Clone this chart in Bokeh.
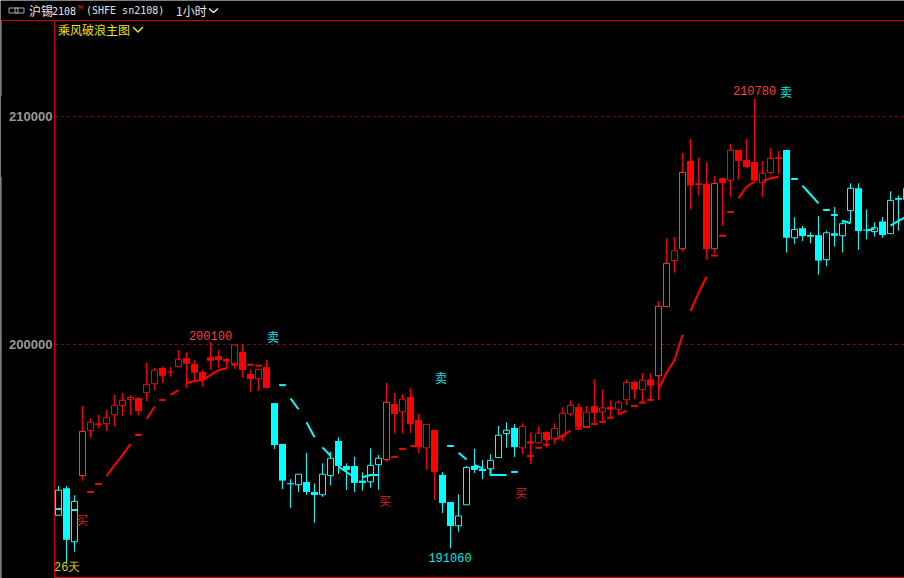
from bokeh.plotting import figure
from bokeh.embed import file_html
from bokeh.resources import INLINE
from bokeh.models import FixedTicker, Range1d, Span
from bokeh.core.properties import value

# ---------- data ----------
open_ = [192510,193690,191350,194250,196220,196540,196530,196920,197320,197580,
         197650,197890,198280,198970,198820,199030,199400,199150,198790,199440,
         199480,199360,199160,199670,198710,198500,199010,197430,195640,193920,
         193850,193970,193530,193410,194250,195770,194670,194670,194030,193980,
         194730,194950,197390,197050,197700,196690,195470,196250,194280,193090,
         192050,192970,194670,194540,194550,195040,196090,196340,195470,195750,
         195690,196160,195870,195960,196960,197260,196370,197300,197050,197260,
         197160,197580,198360,198020,198470,198630,201660,203680,204200,208050,
         207070,207040,204200,207300,207200,208530,208090,208000,207100,207540,
         208210,208530,204680,205100,204800,204790,203720,204880,204770,205870,
         206850,205040,204950,205400,204860,206430]
close = [193610,191440,193120,196190,196590,196470,196790,197330,197550,197680,
         197080,198250,198870,198630,198770,199350,199160,198760,198460,199290,
         199320,199250,199980,198880,198490,198910,198090,195590,194030,193870,
         194310,193530,193400,194310,195010,194670,194500,193930,193930,194700,
         195010,197470,196950,197600,196510,195500,196500,194410,193050,192040,
         192480,194610,194500,194450,194920,196020,196240,195500,196410,195650,
         196110,195810,196320,196980,197330,196380,197030,197000,197220,197140,
         197470,198340,198020,198430,198190,201680,203560,204110,207550,206970,
         207000,204190,207070,207080,208520,208050,207790,207180,207510,208170,
         208140,204680,205050,204760,204730,203680,204900,204770,205300,206850,
         204980,205000,205120,204800,206320,206350]
high = [193790,193790,193390,197300,196760,196910,197130,197790,197860,197770,
        197680,199190,198970,199040,199010,199760,199660,199320,198880,200100,
        199760,199400,199980,200010,198910,198910,199320,197430,195640,194090,
        194310,195240,193910,194790,195300,195930,194790,195070,194400,195450,
        195150,198310,197870,197830,198080,196950,196500,196250,194410,193090,
        193430,194670,195420,194930,195180,196430,196590,196510,196540,196150,
        196410,196190,196540,197250,197550,197420,197300,198470,198040,197550,
        197550,198470,198390,198750,198740,201910,204660,204720,208400,209000,
        208210,207990,207390,207300,208790,208530,209000,210780,208050,208620,
        208490,208530,205580,205200,204920,205640,204990,206030,205460,207070,
        207070,205930,205360,205590,206720,206540]
low = [192510,190400,190910,194030,195910,196340,196210,196400,196860,196910,
       196880,197520,198000,198320,198590,199030,198100,198440,198150,198880,
       198970,198910,198930,198540,197930,197960,198090,195420,193660,192840,
       193540,193410,192180,193320,193820,194320,193620,193530,193590,193720,
       193630,194860,196090,196090,196120,195240,194500,193190,192610,191060,
       191790,192970,194360,194100,194550,195040,195470,195070,195200,194750,
       195650,195490,195640,195740,196860,196250,196370,196540,196630,196780,
       196950,197350,197600,197470,197510,197570,201660,203150,204070,205930,
       206530,203720,204000,205210,206480,207230,207740,207180,206480,207480,
       207480,204030,204420,204540,204450,203060,203430,204290,204040,205320,
       204150,204610,204730,204680,204860,204990]
# last bar, of which the left edge only just shows
open_ += [206850]; close += [206350]; high += [206850]; low += [206350]
trend = ["sell"]*3 + ["buy"]*24 + ["sell"]*14 + ["buy"]*7 + ["sell"]*10 + ["buy"]*33 + ["sell"]*16

# guide line: runs of consecutive bars (bar numbers, prices)
buy_runs = [
    ([4],[193530]), ([5],[193880]),
    ([6,7,8,9],[194230,194710,195150,195640]), ([10],[196030]),
    ([11,12],[196730,197270]), ([13],[197570]), ([14,15],[197790,198000]),
    ([16,17,18,19,20,21],[198300,198400,198440,198660,198880,198960]),
    ([22],[199110]), ([24],[199110]), ([25],[199070]),
    ([42],[195070]), ([43],[195420]), ([44,45],[195550,195550]),
    ([59],[195110]), ([60],[195470]), ([61],[195610]),
    ([62,63,64],[195810,196010,196220]), ([65],[196310]), ([66],[196380]),
    ([67],[196510]), ([68],[196610]), ([69],[196790]), ([70,71],[196920,197100]),
    ([72],[197300]), ([73],[197450]), ([74],[197570]),
    ([75,76,77,78],[198050,198750,199320,200420]),
    ([79,80,81],[201470,202260,202970]),
    ([82],[203900]), ([83],[204770]), ([84],[205810]),
    ([85,86,87],[206410,206920,207140]), ([88,89,90],[207170,207290,207360]),
]
sell_runs = [
    ([0],[192790]), ([2],[192740]),
    ([28],[198220]), ([29,30],[197640,197160]), ([31,32],[196590,195930]),
    ([33,34],[195490,195120]), ([35,36,37],[194640,194410,194170]),
    ([38,39,40],[194180,194280,194280]),
    ([49],[195550]), ([50,51],[195250,194960]), ([52,53],[194710,194570]),
    ([54,54,55,56],[194550,194280,194280,194280]), ([57],[194410]),
    ([92],[207260]), ([93,94,95],[206970,206580,206190]), ([96],[205900]),
    ([97],[205680]), ([98,99],[205430,205320]), ([101,102],[204990,205090]),
    ([104,105,106],[205210,205420,205610]),
]
y_ticks = [200000, 210000]
peak_labels = ["200100", "210780", "191060"]
signal_labels = ["卖", "卖", "卖", "买", "买", "买"]

# ---------- scale: 8 px per bar, 228 px per 10000 ----------
BAR = 8.0
UNIT = 10000 / 228.0
def bx(px):   # page pixel -> bar number (for texts and frame only)
    return (px - 58.5) / BAR
def by(py):   # page pixel -> price (for texts and frame only)
    return 200000 + (344.5 - py) * UNIT

# the renderer draws half a pixel off, which the ranges take back so that 1px lines stay sharp
p = figure(width=904, height=578, output_backend="svg", toolbar_location=None,
           x_range=Range1d(bx(0.5), bx(904.5)), y_range=Range1d(by(578.5), by(0.5)),
           x_axis_location=None, min_border=0, min_border_left=0, min_border_right=0,
           min_border_top=0, min_border_bottom=0, background_fill_color="#000000",
           border_fill_color="#000000", outline_line_color=None)
p.grid.visible = False

ax = p.yaxis[0]
ax.ticker = FixedTicker(ticks=y_ticks)
ax.fixed_location = bx(54.5)
ax.bounds = (by(577.5), by(20.5))
ax.axis_line_color = "#d40000"
ax.axis_line_width = 1
ax.major_tick_line_color = None
ax.minor_tick_line_color = None
ax.major_tick_in = 0
ax.major_tick_out = 0
ax.major_label_standoff = 2
ax.major_label_text_color = "#9a9a9a"
ax.major_label_text_font = "Liberation Sans"
ax.major_label_text_font_style = "bold"
ax.major_label_text_font_size = "13px"
ax.formatter.use_scientific = False

# frame lines
p.add_layout(Span(location=by(20.5), dimension="width", line_color="#d40000", line_width=1))
p.segment(x0=[bx(54.5)], x1=[bx(904)], y0=[by(577.5)], y1=[by(577.5)], line_color="#d40000", line_width=1)
p.segment(x0=[bx(55)]*2, x1=[bx(904)]*2, y0=y_ticks, y1=y_ticks,
          line_color="#a00000", line_width=1, line_dash="3 3")
p.segment(x0=[bx(1.5)]*2, x1=[bx(1.5)]*2, y0=[by(21), by(177)], y1=[by(96), by(578)],
          line_color="#555555", line_width=1)

# candles
RED, CYAN, PALE = "#ff0000", "#00ffff", "#ff3c3c"
n = len(open_)
idx = list(range(n))
wick_col = [RED if t == "buy" else CYAN for t in trend]
p.segment(x0=idx, x1=idx, y0=low, y1=high, line_color=wick_col, line_width=1)

solid = [i for i in idx if close[i] <= open_[i]]
p.vbar(x=solid, width=7 / BAR, bottom=[close[i] for i in solid], top=[open_[i] for i in solid],
       fill_color=[wick_col[i] for i in solid], line_color=None)

# hollow bodies, one call per outline colour
hollow_red_tall = [i for i in idx if close[i] > open_[i] and trend[i] == "buy" and close[i] - open_[i] > 1500]
hollow_red = [i for i in idx if close[i] > open_[i] and trend[i] == "buy" and close[i] - open_[i] <= 1500]
hollow_cyan = [i for i in idx if close[i] > open_[i] and trend[i] == "sell"]
for group, colour in ((hollow_red_tall, PALE), (hollow_red, RED), (hollow_cyan, CYAN)):
    p.vbar(x=group, width=6 / BAR, bottom=[open_[i] for i in group], top=[close[i] for i in group],
           fill_color="#000000", line_color=colour, line_width=1)

# guide line
def runs_to_lines(runs):
    xs, ys = [], []
    for bars, vals in runs:
        if len(bars) == 1:
            xs.append([bars[0] - 0.42, bars[0] + 0.42])
            ys.append([vals[0], vals[0]])
        else:
            xs.append(list(bars))
            ys.append(list(vals))
    return xs, ys
bxs, bys = runs_to_lines(buy_runs)
sxs, sys_ = runs_to_lines(sell_runs)
p.multi_line(xs=bxs, ys=bys, line_color=RED, line_width=2)
p.multi_line(xs=sxs, ys=sys_, line_color=CYAN, line_width=2)

# texts on the chart
CJK = "Noto Sans CJK SC"
MONO = "Liberation Mono"
def put(txt, px, py, color, font=CJK, size="12px", align="center"):
    p.text(x=[bx(px)], y=[by(py)], text=[txt], text_color=color, text_font=value(font),
           text_font_size=value(size), text_align=align, text_baseline="middle")

put(peak_labels[0], 210.5, 335, "#ff3c3c", MONO, "12px")
put(peak_labels[1], 754.5, 90, "#ff3c3c", MONO, "12px")
put(peak_labels[2], 450, 557, "#00e6e6", MONO, "12px")
put(signal_labels[0], 273, 336, "#00e6e6")
put(signal_labels[1], 441, 377, "#00e6e6")
put(signal_labels[2], 786, 91, "#00e6e6")
put(signal_labels[3], 82, 519, "#dd2222")
put(signal_labels[4], 385, 500, "#dd2222")
put(signal_labels[5], 521, 492, "#dd2222")
put("26天", 54, 568, "#d2d200", MONO, "12px", "left")

# header
HDR = 10.5
p.rect(x=[bx(13.5), bx(19.5)], y=[by(HDR)]*2, width=9, height=5, width_units="screen", height_units="screen",
       fill_color=None, line_color="#a8a8a8", line_width=1)
put("沪锡", 29, HDR, "#e8e8e8", CJK, "12px", "left")
put("2108", 52, HDR, "#e8e8e8", "DejaVu Sans Mono", "10px", "left")
put("M", 78, HDR - 3, "#cc2222", MONO, "8px", "left")
put("(SHFE sn2108)", 86, HDR, "#e0e0e0", "DejaVu Sans Mono", "10px", "left")
put("1小时", 176, HDR, "#e8e8e8", CJK, "12px", "left")
p.line(x=[bx(209), bx(213.5), bx(218)], y=[by(HDR - 2), by(HDR + 2), by(HDR - 2)], line_color="#e8e8e8", line_width=1.5)
put("乘风破浪主图", 58, 29, "#e6e600", CJK, "12px", "left")
p.line(x=[bx(133), bx(138), bx(143)], y=[by(27), by(32), by(27)], line_color="#e6e600", line_width=1.5)

open("out.html", "w").write(file_html(p, INLINE))
